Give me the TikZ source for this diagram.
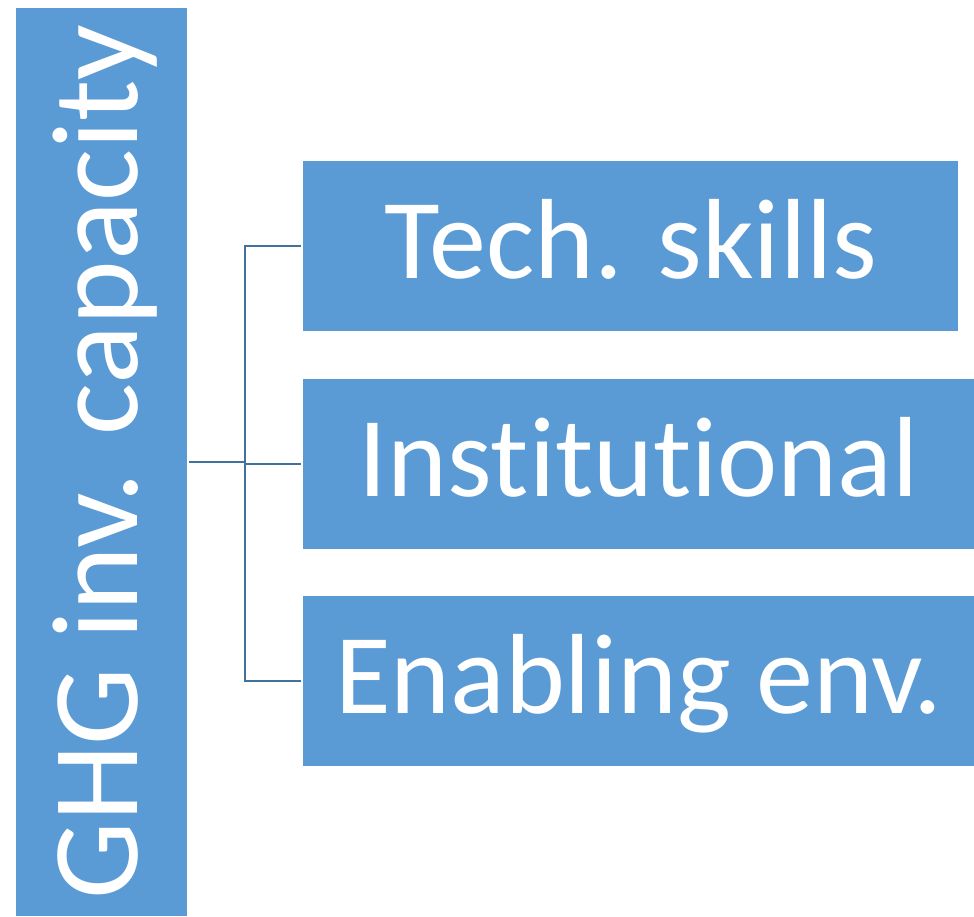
\documentclass[tikz,border=0pt]{standalone}
\usepackage{fontspec}
\setmainfont{Carlito}[Ligatures={NoCommon}]
\definecolor{boxblue}{HTML}{5B9BD5}
\definecolor{lineblue}{HTML}{41719C}
\begin{document}
\begin{tikzpicture}[x=1pt,y=-1pt,
  box/.style={fill=boxblue, text=white, inner sep=0pt, minimum height=170pt, anchor=north west,
    text height=78pt, text depth=14pt,
    font=\fontsize{114}{114}\selectfont},
  conn/.style={draw=lineblue, line width=2.2pt}]
\useasboundingbox (0,0) rectangle (974,916);
\node[fill=boxblue, text=white, inner sep=0pt, rotate=90, minimum width=908pt, minimum height=171pt,
  text height=85pt, text depth=14pt,
  font=\fontsize{123}{123}\selectfont] (ghg) at (101.5,462) {GHG inv. capacity};
\node[box, minimum width=655pt] (tech) at (303,161) {Tech. skills};
\node[box, minimum width=671pt] (inst) at (303,379) {Institutional};
\node[box, minimum width=671pt] (enab) at (303,596) {Enabling env.};
\draw[conn] (ghg.south) ++(2,0) -- ++(56,0) |- ([xshift=-2pt]tech.west);
\draw[conn] (ghg.south) ++(2,0) -- ++(56,0) |- ([xshift=-2pt]inst.west);
\draw[conn] (ghg.south) ++(2,0) -- ++(56,0) |- ([xshift=-2pt]enab.west);
\end{tikzpicture}
\end{document}
